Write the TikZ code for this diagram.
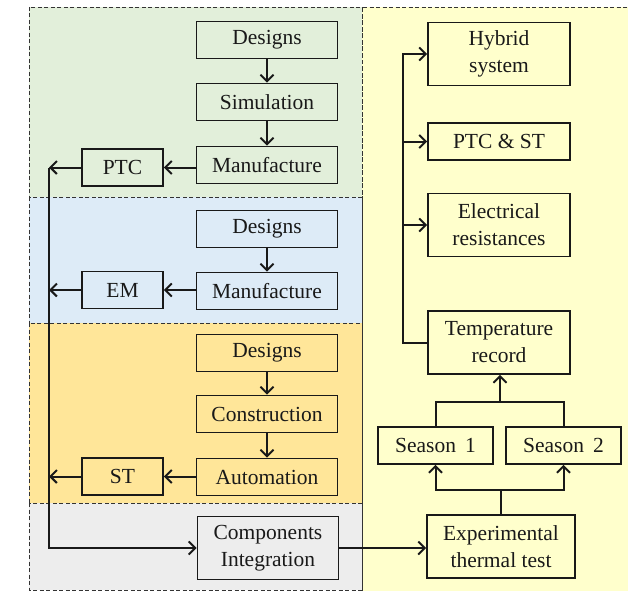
\documentclass[tikz,border=0pt]{standalone}
\usepackage{fontspec}
\setmainfont{Liberation Serif}
\usetikzlibrary{arrows.meta}
\definecolor{pgreen}{HTML}{E2EFDA}
\definecolor{pblue}{HTML}{DDEBF7}
\definecolor{porange}{HTML}{FFE699}
\definecolor{pgray}{HTML}{EDEDED}
\definecolor{pyellow}{HTML}{FFFFCC}
\tikzset{
  panel/.style={draw=black!80, dashed, dash pattern=on 4pt off 2.5pt, line width=0.8pt},
  box/.style={draw=black!90, line width=1.7pt, minimum height=37pt, inner sep=2pt,
    font=\fontsize{21.5}{27}\selectfont, align=center, text=black!90},
  wbox/.style={box, minimum width=141pt},
  sbox/.style={box, minimum width=81pt},
  rbox/.style={box, minimum width=142pt},
  tbox/.style={box, minimum height=63pt},
  conn/.style={line width=2pt, draw=black!90},
  arr/.style={conn, -{Straight Barb[length=6.5pt,width=13pt,line width=2pt]}},
}
\begin{document}
\begin{tikzpicture}[x=1pt,y=-1pt]
\useasboundingbox (0,0) rectangle (628,591);
% panels
\path[fill=pyellow] (362,7) rectangle (628,591);
\draw[panel] (362,591) -- (362,7) -- (628,7);
\draw[panel, fill=pgreen] (29,7) rectangle (362,197);
\draw[panel, fill=pblue] (29,197) rectangle (362,323);
\draw[panel, fill=porange] (29,323) rectangle (362,503);
\draw[panel, fill=pgray] (29,503) rectangle (362,590);
% green group
\node[wbox, fill=pgreen] (d1) at (267,40) {Designs};
\node[wbox, fill=pgreen] (sim) at (267,102) {Simulation};
\node[wbox, fill=pgreen] (m1) at (267,165) {Manufacture};
\node[sbox, fill=pgreen] (ptc) at (122.5,167.5) {PTC};
% blue group
\node[wbox, fill=pblue] (d2) at (267,229) {Designs};
\node[wbox, fill=pblue] (m2) at (267,291) {Manufacture};
\node[sbox, fill=pblue] (em) at (122.5,290) {EM};
% orange group
\node[wbox, fill=porange] (d3) at (267,353) {Designs};
\node[wbox, fill=porange] (con) at (267,414) {Construction};
\node[wbox, fill=porange] (aut) at (267,477) {Automation};
\node[sbox, fill=porange] (st) at (122.5,476.5) {ST};
% gray
\node[wbox, tbox, fill=pgray] (comp) at (268,548) {Components\\Integration};
% right
\node[rbox, tbox, fill=pyellow] (hyb) at (499,54) {Hybrid\\system};
\node[rbox, fill=pyellow] (pst) at (499,141.5) {PTC \& ST};
\node[rbox, tbox, fill=pyellow] (ele) at (499,225) {Electrical\\resistances};
\node[rbox, tbox, fill=pyellow] (tmp) at (499,342.5) {Temperature\\record};
\node[box, minimum width=115pt, fill=pyellow] (s1) at (435.5,445.5) {Season\, 1};
\node[box, minimum width=115pt, fill=pyellow] (s2) at (563.5,445.5) {Season\, 2};
\node[box, minimum width=148pt, tbox, fill=pyellow] (exp) at (501,546.5) {Experimental\\thermal test};
% coordinates
\coordinate (busT) at (49,167.5);
\coordinate (busB) at (49,548);
\coordinate (busR) at (403,342.5);
\coordinate (sj) at (500,402);
\coordinate (ej) at (501,490);
% left arrows
\draw[arr] (d1) -- (sim);
\draw[arr] (sim) -- (m1);
\draw[arr] (m1.west |- ptc.east) -- (ptc.east);
\draw[arr] (ptc.west) -- (busT);
\draw[arr] (d2) -- (m2);
\draw[arr] (m2.west |- em.east) -- (em.east);
\draw[arr] (em.west) -- (em.west -| busT);
\draw[arr] (d3) -- (con);
\draw[arr] (con) -- (aut);
\draw[arr] (aut.west |- st.east) -- (st.east);
\draw[arr] (st.west) -- (st.west -| busT);
\draw[arr] (busT) -- (busB) -- (comp.west);
\draw[arr] (comp.east) -- (comp.east -| exp.west);
% right arrows
\draw[arr] (tmp.west) -- (busR) |- (hyb.west);
\draw[arr] (pst.west -| busR) -- (pst.west);
\draw[arr] (ele.west -| busR) -- (ele.west);
\draw[conn] (s1.north) |- (sj) -| (s2.north);
\draw[arr] (sj) -- (sj |- tmp.south);
\draw[conn] (exp.north) -- (ej);
\draw[arr] (ej) -| (s1.south);
\draw[arr] (ej) -| (s2.south);
\end{tikzpicture}
\end{document}
